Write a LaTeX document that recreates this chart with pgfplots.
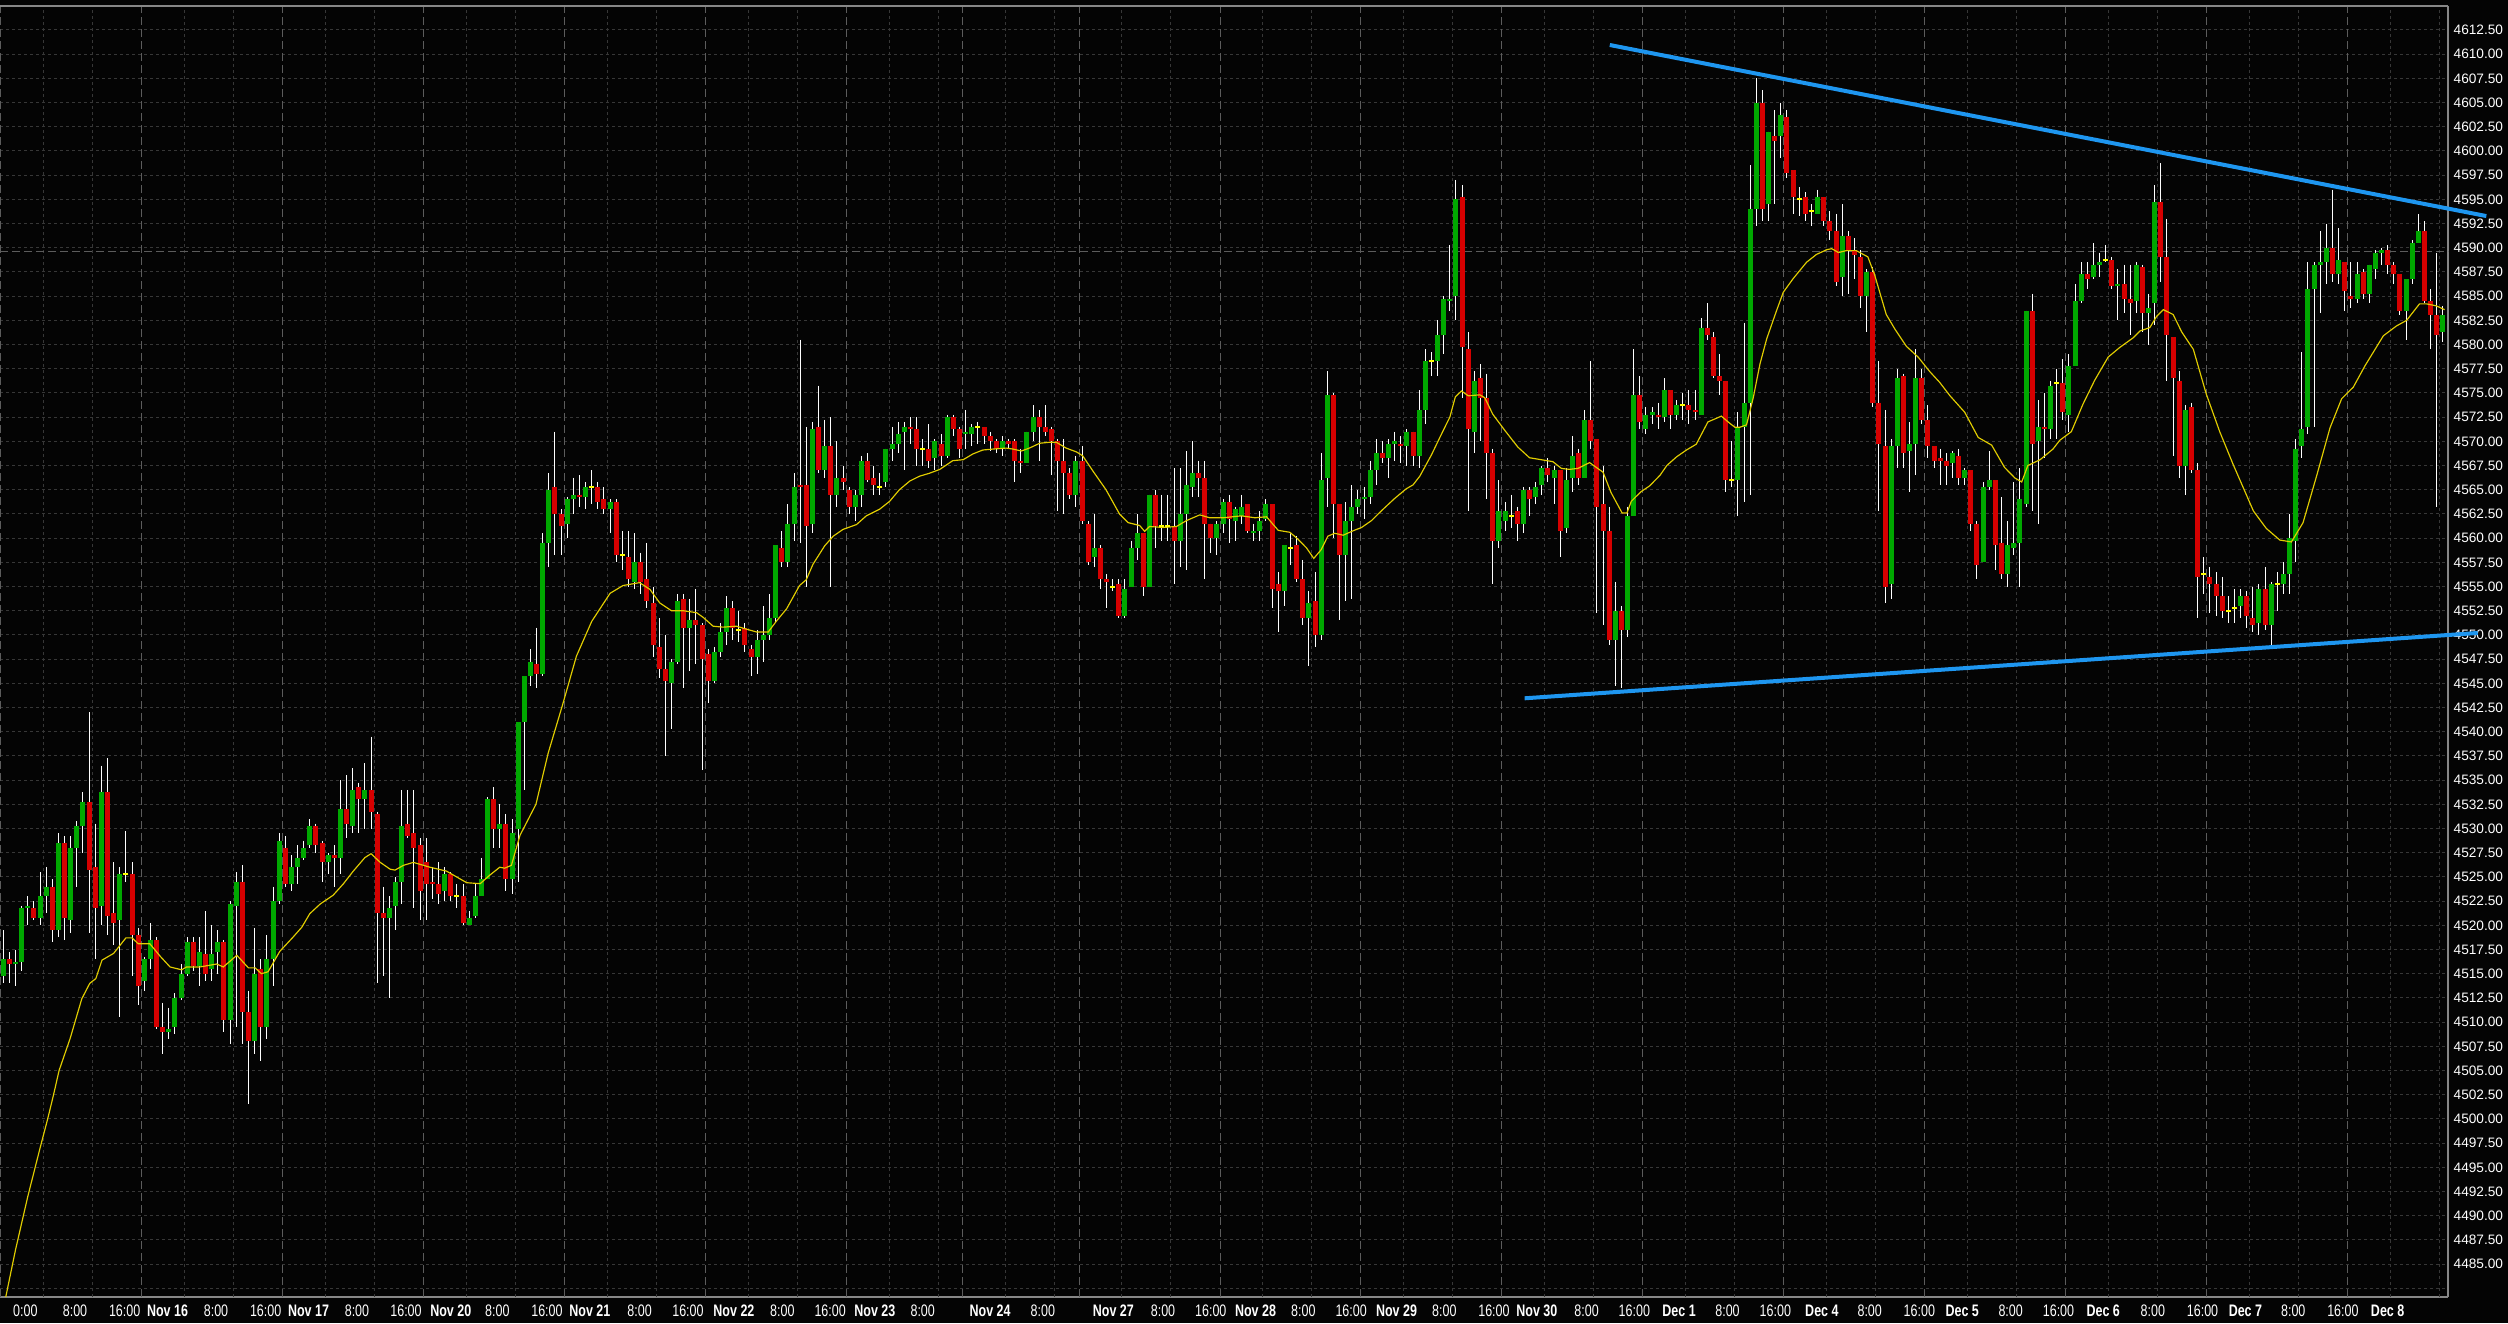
\documentclass[border=0pt]{standalone}
\usepackage{pgfplots}
\pgfplotsset{compat=1.18}
\usepackage{pgfplotstable}
\usepackage{fontspec}
\setmainfont{Liberation Sans}
\newfontfamily\cf[FakeStretch=0.75]{Liberation Sans}
\definecolor{bg}{RGB}{4,4,4}
\definecolor{cgreen}{RGB}{0,168,0}
\definecolor{cred}{RGB}{214,0,0}
\definecolor{cyel}{RGB}{255,255,0}
\definecolor{cma}{RGB}{225,205,0}
\definecolor{cblue}{RGB}{30,150,240}
\definecolor{gridc}{RGB}{55,55,55}
\definecolor{dayc}{RGB}{92,92,92}
\definecolor{framec}{RGB}{135,135,135}
\pgfplotsset{
  nomark/.style={only marks, mark=*, mark size=0pt, mark options={draw=none, fill=none}},
}
% columns: index, open, high, low, close, type (1 up, -1 down, 0 doji)
\pgfplotstableread{
i o h l c t
0 4514.75 4519.5 4514 4516.5 1
1 4516.5 4517.25 4514 4516 -1
2 4516 4517.5 4513.75 4516.25 1
3 4516.25 4522 4515.25 4521.75 1
4 4521.75 4523 4520 4522 1
5 4521.75 4522.5 4520.5 4520.75 -1
6 4520.75 4525.5 4520 4523 1
7 4523 4526 4521.25 4524 1
8 4524 4524.75 4518.25 4519.5 -1
9 4519.5 4529.5 4518.75 4528.5 1
10 4528.5 4529.25 4518.5 4520.75 -1
11 4520.5 4529.25 4519.25 4528 1
12 4528 4530.75 4524 4530.25 1
13 4530.25 4533.75 4527.5 4532.75 1
14 4532.75 4542 4519.25 4525.75 -1
15 4526 4530.5 4516.5 4521.75 -1
16 4522 4536.5 4520 4533.75 1
17 4533.75 4537.25 4519 4521 -1
18 4521.25 4526.5 4518 4520.25 -1
19 4520.5 4526 4510.5 4525.25 1
20 4525.25 4529.75 4524.5 4525.25 0
21 4525.25 4526.5 4514.75 4519 -1
22 4519 4519.75 4511.75 4513.75 -1
23 4514.25 4516.75 4513.25 4516.5 1
24 4516.5 4520.25 4515.5 4518.5 1
25 4518.5 4518.75 4509.25 4509.5 -1
26 4509.5 4512 4506.75 4509 -1
27 4509 4511.5 4508.25 4509.25 1
28 4509.5 4513 4508.75 4512.5 1
29 4512.5 4516 4512.25 4515 1
30 4515 4518.75 4514.75 4518.25 1
31 4518.25 4518.75 4515.25 4515.75 -1
32 4515.75 4518.75 4513.75 4517.25 1
33 4517 4521.5 4514.25 4515 -1
34 4515.5 4520 4514.25 4517 1
35 4517.25 4519.5 4515 4518.25 1
36 4518.25 4518.5 4509 4510.25 -1
37 4510.25 4522.5 4507.75 4522.25 1
38 4522 4525.5 4509.5 4524.5 1
39 4524.5 4526.25 4507.75 4511 -1
40 4511 4513.25 4501.5 4508 -1
41 4508 4519.75 4506.75 4515 1
42 4515.5 4516.5 4506 4509.5 -1
43 4509.5 4519 4508.25 4516.5 1
44 4516.5 4524 4513.75 4522.5 1
45 4522.5 4529.5 4522.25 4528.75 1
46 4528 4529.25 4524 4524.25 -1
47 4524.25 4527.25 4523.5 4526 1
48 4526 4528.25 4524.25 4527 1
49 4527 4528.75 4526.75 4528 1
50 4528.25 4531 4528 4530.25 1
51 4530.25 4530.5 4527.5 4528.25 -1
52 4528.5 4528.75 4524.5 4526.5 -1
53 4526.5 4527.5 4525.25 4527.25 1
54 4527.25 4528.25 4524 4527 -1
55 4527 4535 4525.25 4532 1
56 4532 4535.5 4529 4530.5 -1
57 4530.25 4536.25 4529.5 4534 1
58 4534.25 4534.75 4529.5 4533 -1
59 4533 4536.75 4530 4534 1
60 4534 4539.5 4530 4531.75 -1
61 4531.5 4531.75 4514 4521.25 -1
62 4521.25 4524 4514.75 4520.75 -1
63 4520.75 4523 4512.5 4521.75 1
64 4522 4525 4519.5 4524.5 1
65 4524.5 4534 4522.25 4530.25 1
66 4530.5 4534 4529 4529.25 -1
67 4529.5 4534 4521.75 4528 -1
68 4528.25 4529 4520.5 4523.5 -1
69 4526.5 4529 4520.5 4524.25 -1
70 4524.5 4526 4522.75 4524.25 -1
71 4524.25 4526.5 4522.25 4523.25 -1
72 4523.5 4526 4522.5 4525.25 1
73 4525.25 4525.5 4522.5 4523 -1
74 4523 4524.25 4521.75 4523 0
75 4523 4524.25 4520 4520.25 -1
76 4520 4521.5 4520 4520.75 1
77 4521 4524.25 4520.75 4523 1
78 4523 4527 4523 4524.75 1
79 4524.75 4533.25 4524.75 4533 1
80 4533 4534.25 4528 4530 -1
81 4530 4532.5 4528 4530.5 1
82 4530.5 4531.5 4523.5 4524.75 -1
83 4524.75 4531 4523.25 4529.5 1
84 4530 4541 4524.5 4541 1
85 4541 4545.75 4534 4545.75 1
86 4545.75 4548.5 4544.75 4547.25 1
87 4547 4550.75 4544.5 4546 -1
88 4546 4560.5 4545.75 4559.5 1
89 4559.5 4566.75 4557 4565 1
90 4565.25 4571 4558.25 4562.5 -1
91 4562.5 4563 4558.25 4561.25 -1
92 4561.5 4564.25 4560 4564 1
93 4564 4566.25 4562.5 4564.5 1
94 4564.5 4566.5 4563.25 4564.25 -1
95 4564.25 4565.75 4563 4565.25 1
96 4565.25 4567 4563.5 4565.25 0
97 4565.25 4565.75 4563 4563.75 -1
98 4564 4565.25 4562.5 4563 -1
99 4563 4564 4560.5 4563.75 1
100 4563.75 4564 4557.5 4558.25 -1
101 4558.25 4560.75 4556.75 4558.25 0
102 4558 4560.75 4555 4555.75 -1
103 4555.5 4560.5 4554.75 4557.5 1
104 4557.5 4558.5 4554.25 4555.5 -1
105 4555.75 4559.5 4552.75 4553.5 -1
106 4553.25 4555 4547.75 4549 -1
107 4548.75 4551.75 4545.5 4546.5 -1
108 4546.5 4550 4537.5 4545.25 -1
109 4545 4547.5 4540.25 4547.25 1
110 4547.25 4554.25 4547 4553.5 1
111 4553.75 4554.25 4544.5 4550.75 -1
112 4550.75 4553.75 4546.25 4551.5 1
113 4551.5 4554.75 4547 4551 -1
114 4551 4551.25 4536 4547.5 -1
115 4548 4548.5 4543 4545.25 -1
116 4545.25 4548.75 4545 4548.25 1
117 4548.25 4551.25 4547.75 4550.25 1
118 4550.25 4554 4549 4552.75 1
119 4552.75 4553.5 4549.5 4550.75 -1
120 4550.5 4552.5 4549.25 4550.5 0
121 4550.75 4551.25 4548.25 4549 -1
122 4548.5 4549 4545.75 4547.75 -1
123 4547.75 4550.5 4546 4549.5 1
124 4549.5 4553 4547.25 4550 1
125 4550 4554.25 4549.5 4551.75 1
126 4551.75 4559.25 4551.25 4559.25 1
127 4559 4560.75 4557 4557.5 -1
128 4557.5 4563.5 4557 4561.5 1
129 4561.5 4566.75 4559.75 4565.25 1
130 4565.5 4580.5 4559.5 4565.25 -1
131 4565.5 4571.5 4555 4561.25 -1
132 4561.5 4572 4560.5 4571.25 1
133 4571.5 4575.75 4566.75 4567 -1
134 4567 4572.25 4566.25 4569.5 1
135 4569.5 4572.5 4555 4564.5 -1
136 4564.5 4570 4563.25 4566.25 1
137 4566.25 4567.5 4565 4565.75 -1
138 4565 4565.25 4562.5 4563.25 -1
139 4563.25 4565 4561.75 4564.5 1
140 4564.5 4568.5 4563.25 4568 1
141 4568 4568.75 4565.75 4566 -1
142 4566.25 4567.5 4564.5 4565.5 -1
143 4565.25 4566.75 4564.5 4565.25 0
144 4565.75 4569.25 4565.25 4569.25 1
145 4569.25 4571.5 4568 4569.75 1
146 4569.75 4572 4568.75 4570.75 1
147 4571 4572 4567 4571.5 1
148 4571.5 4572.5 4569.75 4571.25 -1
149 4571.25 4572.5 4567.5 4569.25 -1
150 4569.25 4570.25 4567.5 4569.25 0
151 4569.25 4571.75 4567.25 4568 -1
152 4568.25 4570.25 4567 4570 1
153 4569.75 4570.75 4567.5 4568.5 -1
154 4568.5 4572.75 4568.25 4572.5 1
155 4572.5 4572.75 4570.5 4571.25 -1
156 4571.25 4571.5 4568.25 4569.25 -1
157 4570.75 4573.25 4569.25 4571 1
158 4570.75 4571.75 4569.5 4571.5 1
159 4571.5 4572 4569.75 4571.5 0
160 4571.5 4571.5 4569.75 4570.5 -1
161 4570.5 4571 4569 4570 -1
162 4570 4570.25 4568.75 4569.25 -1
163 4569.25 4570.5 4568.5 4570 1
164 4570 4570.25 4569.25 4569.75 -1
165 4570 4570.25 4565.75 4568 -1
166 4568 4569.25 4566.75 4567.75 -1
167 4567.75 4571 4567.75 4571 1
168 4571 4573.75 4570 4572.5 1
169 4572.5 4573.25 4568 4571.5 -1
170 4571.5 4573.75 4570.5 4571 -1
171 4571.25 4571.5 4566.5 4570 -1
172 4570 4570.25 4562.75 4568 -1
173 4568 4570.25 4562.5 4566.75 -1
174 4566.75 4567.25 4564 4564.5 -1
175 4564.5 4568.5 4563.25 4568 1
176 4568 4569.5 4561.5 4561.75 -1
177 4561.5 4561.75 4557.25 4557.5 -1
178 4558 4562.5 4557 4559 1
179 4559 4559.25 4554.75 4555.75 -1
180 4555.75 4556.25 4552.75 4555.5 -1
181 4555 4555.75 4554.5 4555 0
182 4555.25 4555.75 4551.75 4552 -1
183 4552 4555.75 4551.75 4554.75 1
184 4555 4559.75 4555 4559 1
185 4559 4562.5 4557.75 4560.5 1
186 4560.5 4560.5 4554 4555 -1
187 4555 4564.5 4555 4564.5 1
188 4564.5 4565 4559 4561.25 -1
189 4561.25 4564.5 4559.75 4561.25 0
190 4561.25 4564.5 4559.75 4561.25 0
191 4561.25 4567.25 4555.25 4559.75 -1
192 4559.75 4567.25 4557 4562.5 1
193 4562.5 4569 4556.75 4565.5 1
194 4565.25 4570 4564.25 4566.75 1
195 4566.75 4568 4564.25 4566.25 -1
196 4566.25 4568 4555.75 4561.5 -1
197 4561.5 4561.5 4558.5 4560 -1
198 4560 4561.75 4558.25 4561.5 1
199 4561.5 4564 4560.5 4563.75 1
200 4563.75 4564.5 4559.5 4562 -1
201 4561.75 4563.25 4559.75 4563 1
202 4562.25 4564.5 4561.5 4563.25 1
203 4563.5 4563.5 4560.5 4560.75 -1
204 4560.5 4561.5 4559.75 4560.75 1
205 4560.75 4562.75 4559.75 4561.75 1
206 4562 4564 4561.75 4563.5 1
207 4563.5 4563.5 4552.75 4554.75 -1
208 4555.25 4556.5 4550.25 4554.5 -1
209 4554.5 4559.25 4553 4559.25 1
210 4559 4560.5 4557.25 4559 0
211 4559.25 4560.25 4555.5 4555.75 -1
212 4555.75 4557.75 4551 4551.75 -1
213 4551.75 4554.5 4546.75 4553.25 1
214 4553.5 4556.5 4548.75 4550 -1
215 4550 4568.75 4549.5 4566 1
216 4566.25 4577.25 4563.25 4574.75 1
217 4574.75 4575 4560 4563.5 -1
218 4563.5 4563.5 4551.5 4558.25 -1
219 4558.25 4563.75 4553.5 4561.75 1
220 4561.75 4565.5 4553.75 4563.25 1
221 4563.25 4565 4562.5 4564 1
222 4564 4565.25 4562 4564.25 1
223 4564.25 4568 4563.5 4567 1
224 4567 4570.25 4565.5 4568.75 1
225 4568.75 4570 4567.75 4568.25 -1
226 4568.25 4570.25 4566.25 4569.75 1
227 4569.75 4571 4568 4570 1
228 4569.75 4570.5 4567.75 4569.5 -1
229 4569.5 4571.25 4567.5 4571 1
230 4571 4571 4567.5 4568.5 -1
231 4568.5 4575.25 4567.25 4573.25 1
232 4573.25 4579.5 4571.75 4578.25 1
233 4578.25 4579.25 4576.75 4578.25 0
234 4578.25 4582.5 4576.75 4581 1
235 4581 4585 4579 4584.75 1
236 4584.5 4590.25 4583.5 4584.75 1
237 4585 4597 4582.5 4595 1
238 4595.25 4596.5 4574.5 4579.75 -1
239 4579.5 4581.25 4562.75 4571.25 -1
240 4571 4577.25 4568.75 4576.25 1
241 4576.5 4578 4570 4574.5 -1
242 4574.5 4577 4564 4568.75 -1
243 4568.75 4569.25 4555.25 4559.75 -1
244 4559.75 4566 4559 4562.75 1
245 4561.75 4563.75 4560.75 4562.75 1
246 4562.25 4564.5 4561 4562.25 0
247 4562.75 4563.25 4559.75 4561.5 -1
248 4561.5 4565.25 4560.5 4565 1
249 4565 4565.25 4562.25 4564 -1
250 4564.25 4565.75 4563.5 4565.25 1
251 4565.5 4567.5 4564.5 4567.25 1
252 4567.25 4568.25 4565.75 4566.5 -1
253 4566.25 4567.5 4563.5 4567 1
254 4567 4567 4558 4560.75 -1
255 4561 4567.25 4560.5 4566 1
256 4566.25 4570.5 4564.75 4568.5 1
257 4568.75 4569.25 4565.5 4566.25 -1
258 4566.25 4573.25 4566.25 4572.25 1
259 4572.25 4578.25 4569.25 4570 -1
260 4570.25 4570.25 4552.25 4563.25 -1
261 4563.5 4567.5 4551 4560.75 -1
262 4560.75 4563.25 4549 4549.5 -1
263 4549.5 4555.5 4544.75 4552.5 1
264 4552.5 4553 4544.5 4550.5 -1
265 4550.5 4563.25 4549.75 4562.25 1
266 4562.25 4579.5 4562.25 4574.75 1
267 4574.75 4576.75 4571.25 4572 -1
268 4571.25 4573.5 4570.75 4572.75 1
269 4572.75 4573.5 4571.75 4573 1
270 4572.75 4574 4571.25 4572.5 -1
271 4572.5 4576.5 4572 4575.25 1
272 4575.25 4575.25 4571.25 4572.75 -1
273 4572.75 4574.25 4572.25 4573.75 1
274 4573.75 4575 4572.25 4573.75 0
275 4573.75 4575.25 4571.75 4573.25 -1
276 4573.25 4575.25 4572.25 4573 -1
277 4572.75 4582.75 4572.75 4581.75 1
278 4581.75 4584.25 4580.5 4581 -1
279 4580.75 4581.25 4576.5 4576.75 -1
280 4576.75 4579 4574.75 4576.25 -1
281 4576.25 4576.25 4564.75 4566 -1
282 4566 4570 4565.25 4566 0
283 4566 4573 4562.25 4571.5 1
284 4571.5 4582.25 4563.75 4574 1
285 4574 4598.5 4564.5 4594 1
286 4594 4607.5 4592.25 4605 1
287 4605 4606.25 4592.75 4594 -1
288 4594.5 4602 4592.75 4602 1
289 4601.5 4604.25 4594.5 4601 -1
290 4601.5 4605 4599.25 4603.75 1
291 4603.5 4604.25 4597.25 4597.75 -1
292 4598 4598 4593.5 4595.25 -1
293 4595 4596.25 4593.25 4595 0
294 4595.25 4595.75 4592.75 4593.5 -1
295 4593.75 4594.5 4592.25 4593.75 0
296 4593.5 4596 4593.5 4595.25 1
297 4595.25 4595.25 4592.25 4592.75 -1
298 4592.75 4593.75 4590.75 4591.75 -1
299 4591.75 4593.5 4586 4586.5 -1
300 4587 4594.5 4585 4591.25 1
301 4591.25 4591.75 4585.25 4589.75 -1
302 4589.75 4591 4586.75 4589.25 -1
303 4589 4589.75 4583.75 4585 -1
304 4585 4587.75 4581.25 4587.5 1
305 4587.5 4588 4573.5 4574 -1
306 4574 4578.25 4562.75 4569.75 -1
307 4569.5 4573.25 4553.25 4555 -1
308 4555.25 4570.25 4553.75 4569.5 1
309 4569.5 4577.5 4567.25 4576.5 1
310 4576.75 4577 4567.25 4568.75 -1
311 4569 4572 4564.75 4569.75 1
312 4569.75 4579.5 4566.5 4576.5 1
313 4576.5 4577.5 4571.75 4572.25 -1
314 4572.25 4573.75 4568.25 4569.5 -1
315 4569.5 4569.5 4567.25 4568 -1
316 4568.25 4569.25 4565.5 4568 -1
317 4568 4568.75 4565.5 4567.5 -1
318 4567.75 4569 4566.25 4568.75 1
319 4568.5 4569.25 4565.5 4566.25 -1
320 4566.25 4567.25 4565.5 4567 1
321 4567 4567 4560.75 4561.5 -1
322 4561.5 4561.75 4555.75 4557.25 -1
323 4557.5 4565.75 4557.5 4565.25 1
324 4565.25 4569 4565 4566 1
325 4566 4566 4556.75 4559.25 -1
326 4559.5 4564.25 4555.75 4556.25 -1
327 4556.25 4561.75 4555 4559.25 1
328 4559 4565.75 4558.25 4559.5 1
329 4559.5 4567.25 4555 4564 1
330 4563.5 4583.5 4563.25 4583.5 1
331 4583.5 4585.25 4562.75 4569.75 -1
332 4570 4574.25 4561.5 4571.5 1
333 4571.5 4575 4568.25 4571.25 -1
334 4571.25 4576.25 4570.25 4575.75 1
335 4576 4577.5 4570.25 4576 0
336 4576 4578.5 4572.25 4573 -1
337 4572.75 4579 4571 4577.75 1
338 4577.75 4586.25 4577.75 4584.5 1
339 4584.5 4588.5 4584.25 4587.25 1
340 4587.25 4588.5 4585.75 4586.75 -1
341 4587 4590.5 4586.75 4588.25 1
342 4588.25 4589.5 4587 4588.5 1
343 4588.75 4590.25 4588.5 4588.75 0
344 4588.75 4589 4585.75 4586 -1
345 4586 4587.75 4582.5 4586.25 1
346 4586.25 4588.25 4583.25 4584.75 -1
347 4584.75 4588.25 4581 4584.25 -1
348 4584.5 4588.5 4583.25 4588.25 1
349 4588 4588.25 4581.25 4583.25 -1
350 4583.25 4585.25 4580 4583.75 1
351 4584.25 4596.5 4582 4594.75 1
352 4594.75 4598.75 4586.5 4589 -1
353 4589 4593 4576.25 4581 -1
354 4580.75 4580.75 4568.5 4576.5 -1
355 4576.25 4577.25 4566.25 4567.5 -1
356 4567.5 4573.75 4564.5 4573.25 1
357 4573.5 4574 4566.75 4567 -1
358 4567 4567.75 4551.75 4556 -1
359 4556.25 4558 4554.25 4556.25 0
360 4556 4557 4552.25 4555.25 -1
361 4555.25 4556.5 4552 4554 -1
362 4554 4556 4551.75 4552.5 -1
363 4552.5 4554 4551.25 4552.5 0
364 4552.75 4554.75 4551.25 4552.75 0
365 4553 4554.75 4551.75 4554 1
366 4554 4554.5 4550.75 4552 -1
367 4551.75 4555 4550.25 4551 -1
368 4551.25 4555.25 4550 4554.75 1
369 4554.75 4557 4550.5 4551 -1
370 4551 4555.5 4548.75 4555.25 1
371 4555.25 4556.5 4552.5 4555.25 0
372 4555.25 4557.5 4554.25 4556.25 1
373 4556.25 4562.5 4554.25 4560 1
374 4559.75 4570.25 4557.5 4569.25 1
375 4569.5 4579.25 4568.25 4571.25 1
376 4571.5 4588.5 4570.75 4585.75 1
377 4585.75 4588.5 4571.5 4588.25 1
378 4588.25 4591.75 4583.25 4588.5 1
379 4588.5 4592.5 4586.25 4590 1
380 4590 4596 4586.5 4587.25 -1
381 4587.25 4592 4586.25 4588.75 1
382 4588.5 4588.5 4583.5 4585.5 -1
383 4585 4588.5 4583.75 4584.75 -1
384 4584.75 4588.5 4584.25 4587.25 1
385 4587.5 4587.75 4584.75 4585.25 -1
386 4585.25 4588.25 4584.25 4588.25 1
387 4587.75 4589.75 4586.75 4589.5 1
388 4589.5 4590 4588.25 4589.75 1
389 4589.75 4590.25 4587.25 4588.25 -1
390 4588.25 4588.5 4586.25 4587.25 -1
391 4587.25 4587.25 4583 4583.5 -1
392 4583.5 4586.75 4580.5 4586.75 1
393 4586.75 4590.75 4586.25 4590.5 1
394 4590.5 4593.5 4590.5 4591.75 1
395 4591.75 4592.75 4584.25 4584.5 -1
396 4584.5 4585.75 4579.5 4583 -1
397 4583 4589.5 4563.25 4581 -1
398 4581.25 4584 4580.25 4583 1
}\candles
\begin{document}
\begin{tikzpicture}
\begin{axis}[
  set layers,
  width=734.4pt, height=387.3pt, scale only axis,
  xmin=-0.54, xmax=398.85,
  ymin=4481.6, ymax=4614.97,
  clip=false,
  axis background/.style={fill=bg},
  axis x line*=bottom, axis y line*=right,
  axis line style={framec, line width=0.5pt},
  scaled y ticks=false,
  ytick={4485,4487.5,...,4612.5},
  extra y ticks={4482.5}, extra y tick labels={},
  ymajorgrids,
  major grid style={gridc, line width=0.3pt, dash pattern=on 0.9pt off 0.9pt},
  major tick length=0pt,
  tick style={draw=none},
  yticklabel style={font=\fontsize{4.1}{4.3}\selectfont, text=white, inner sep=0pt, anchor=west, xshift=1.5pt,
    /pgf/number format/.cd, fixed, fixed zerofill, precision=2, 1000 sep={}, assume math mode=true},
  xtick={3.6,11.7,19.8,26.8,34.7,42.8,49.8,57.7,65.7,73.0,80.6,88.7,95.7,103.8,111.7,119.2,127.1,134.9,142.2,150.0,161.0,169.6,181.1,189.2,197.0,204.3,212.1,219.9,227.3,235.1,243.2,250.2,258.3,266.1,273.4,281.3,289.1,296.7,304.5,312.6,319.6,327.5,335.3,342.6,350.7,358.8,365.8,373.6,381.7,389.0},
  xticklabels={0:00,8:00,16:00,\textbf{Nov 16},8:00,16:00,\textbf{Nov 17},8:00,16:00,\textbf{Nov 20},8:00,16:00,\textbf{Nov 21},8:00,16:00,\textbf{Nov 22},8:00,16:00,\textbf{Nov 23},8:00,\textbf{Nov 24},8:00,\textbf{Nov 27},8:00,16:00,\textbf{Nov 28},8:00,16:00,\textbf{Nov 29},8:00,16:00,\textbf{Nov 30},8:00,16:00,\textbf{Dec 1},8:00,16:00,\textbf{Dec 4},8:00,16:00,\textbf{Dec 5},8:00,16:00,\textbf{Dec 6},8:00,16:00,\textbf{Dec 7},8:00,16:00,\textbf{Dec 8}},
  xticklabel style={font=\cf\fontsize{5}{5.2}\selectfont, text=white, inner sep=0pt, anchor=north, yshift=-2.1pt},
]
\coordinate (pgtl) at ([yshift=1.8pt]rel axis cs:0,1);
\coordinate (pgbr) at ([xshift=752.4pt, yshift=-7.8pt]rel axis cs:0,0);
\begin{pgfonlayer}{axis background}
\fill[bg] (pgtl) rectangle (pgbr);
\end{pgfonlayer}
% vertical grid lines
\pgfplotsinvokeforeach{6.5,14.5,29.5,37.5,52.5,60.5,75.5,83.5,98.5,106.5,121.5,129.5,144.5,152.5,163.5,171.5,182.5,190.5,205.5,213.5,228.5,236.5,251.5,259.5,274.5,282.5,297.5,305.5,320.5,328.5,343.5,351.5,366.5,374.5,389.5,397.5}{
  \draw[gridc, line width=0.3pt, dash pattern=on 0.9pt off 0.9pt] (axis cs:#1,4481.6) -- (axis cs:#1,4614.97);
}
\pgfplotsinvokeforeach{-0.5,22.5,45.5,68.5,91.5,114.5,137.5,156.5,175.5,198.5,221.5,244.5,267.5,290.5,313.5,336.5,359.5,382.5}{
  \draw[dayc, line width=0.3pt, dash pattern=on 2.4pt off 1.2pt] (axis cs:#1,4481.6) -- (axis cs:#1,4614.97);
}
\draw[dayc, line width=0.3pt, dash pattern=on 2.4pt off 1.2pt] (axis cs:-0.54,4589.6) -- (axis cs:398.85,4589.6);
\draw[framec, line width=0.5pt] (rel axis cs:0,1) -- (rel axis cs:1,1);
% wicks
\addplot[nomark, forget plot,
  error bars/.cd, y dir=minus, y explicit, error mark=none,
  error bar style={draw=white, line width=0.3pt}]
  table[x=i, y=h, y error minus expr=\thisrow{h}-\thisrow{l}] {\candles};
% up bodies
\addplot[nomark, forget plot,
  restrict expr to domain={\thisrow{t}}{0.5:1.5},
  error bars/.cd, y dir=minus, y explicit, error mark=none,
  error bar style={draw=cgreen, line width=1.5pt}]
  table[x=i, y=c, y error minus expr=\thisrow{c}-\thisrow{o}] {\candles};
% down bodies
\addplot[nomark, forget plot,
  restrict expr to domain={\thisrow{t}}{-1.5:-0.5},
  error bars/.cd, y dir=minus, y explicit, error mark=none,
  error bar style={draw=cred, line width=1.5pt}]
  table[x=i, y=o, y error minus expr=\thisrow{o}-\thisrow{c}] {\candles};
% doji
\addplot[only marks, mark=-, mark size=0.75pt, mark options={draw=cyel, line width=0.6pt}, forget plot,
  restrict expr to domain={\thisrow{t}}{-0.5:0.5}]
  table[x=i, y=c] {\candles};
% moving average
\addplot[cma, line width=0.35pt] coordinates {
(0.4,4481.6) (2,4486.5) (4,4492) (6,4497) (7.2,4499.9) (8.2,4502.5) (9.1,4505) (10.9,4508.3) (12.8,4512.4) (14.1,4514) (15.1,4514.5) (16.1,4516.4) (18,4517.1) (20,4518.7) (21,4518.7) (22,4518.1) (23.9,4518.1) (25.6,4516.8) (27.2,4515.7) (29.1,4515.4) (29.9,4515.7) (32.1,4515.7) (34.8,4516) (35.9,4515.7) (38.1,4516.9) (40,4515.6) (41.1,4515.6) (42.1,4515) (43.2,4515.2) (45.1,4517.3) (47.3,4518.8) (48.7,4519.8) (50,4521.2) (51.7,4522.2) (53.8,4523.1) (55.5,4524.3) (57.1,4525.6) (59,4527) (60,4527.4) (61.5,4526.5) (63.1,4525.8) (63.9,4525.7) (65.3,4526.2) (66.9,4526.5) (69.6,4526) (72.3,4525.6) (75.6,4524.4) (77.8,4524.3) (79.4,4525.2) (81,4526) (81.8,4525.9) (82.9,4526.2) (84.3,4529.3) (86.9,4532.5) (88.9,4537.8) (91.3,4542.9) (93.5,4547.8) (96,4551.4) (99,4554.3) (101.1,4555.1) (103.8,4555.4) (105.5,4554.7) (107.1,4553.3) (109,4552.5) (110.9,4552.5) (113.1,4552.3) (114.2,4551.8) (115.8,4550.9) (117.4,4550.8) (119.6,4550.9) (121.2,4550.6) (122.9,4550.3) (124.8,4550.3) (126.1,4551.4) (127.8,4552.7) (129.9,4555.1) (131,4555.7) (132.1,4557.3) (134,4559.2) (135.4,4560.2) (137,4560.9) (139.2,4561.4) (140.8,4562.3) (143,4563) (144.6,4563.8) (146.2,4565) (147.9,4565.9) (149.5,4566.4) (151.1,4566.7) (152.8,4567.1) (154.9,4568) (156.6,4568.1) (158.2,4568.7) (159.8,4569.1) (161.5,4569.2) (163.6,4569.3) (164.7,4569.2) (166.1,4569) (167.4,4569.3) (169.1,4569.8) (170.7,4569.9) (171.8,4569.9) (173.4,4569.3) (175.1,4568.9) (176.1,4568.5) (177.8,4566.9) (179.9,4565) (182.1,4562.5) (183.5,4561.6) (185.4,4561.3) (186.2,4560.7) (187,4561.2) (189.2,4561.1) (191.4,4561.2) (193,4561.8) (195.2,4562.4) (196.8,4562.1) (199,4562.1) (202,4562.3) (204.2,4562.1) (206.1,4562.2) (208,4560.8) (209.9,4560.6) (211.2,4559.9) (212.6,4559) (213.8,4557.9) (215,4558.8) (216.1,4560.2) (217.2,4560.5) (218.6,4560.3) (220.2,4560.75) (221.6,4561.1) (223.2,4561.8) (224.8,4562.8) (227,4564.1) (228.9,4565.1) (230,4565.5) (231.1,4566.4) (233,4568.6) (234.6,4570.7) (236,4572.5) (236.9,4574.6) (237.9,4575.2) (239,4574.7) (240.9,4574.8) (241.7,4574.5) (243,4572.8) (245,4571.1) (247.1,4569.4) (249,4568.3) (250.9,4568.1) (252.8,4567.9) (254.2,4567.2) (255.5,4567.1) (256.9,4567.2) (258.8,4567.8) (259.9,4567.3) (261,4566.8) (262.3,4564.7) (264.1,4562.6) (264.9,4562.6) (265.6,4563.8) (267.2,4564.8) (268.6,4565.4) (270.3,4566.5) (271.4,4567.5) (273,4568.4) (274.6,4569.1) (276.2,4569.7) (278.1,4572) (280.3,4572.6) (281.4,4572) (282.5,4571.45) (283.3,4571.45) (284.4,4571.7) (285.5,4574.5) (286.6,4578) (287.7,4580.6) (289.3,4583.5) (290.4,4585.4) (292,4586.8) (294.2,4588.5) (295.8,4589.3) (297.5,4589.8) (298.3,4589.9) (299.4,4589.5) (300.7,4589.7) (302.3,4589.7) (304.2,4589.05) (305.3,4587.2) (307.2,4583.1) (308.6,4581.6) (310.5,4579.8) (312.4,4578.7) (314.3,4577.2) (315.9,4576.1) (317.6,4574.7) (320,4573) (322.2,4570.4) (324.4,4569.6) (326.5,4567.3) (328.2,4566.2) (329.3,4565.8) (330.3,4567.5) (332.3,4568.1) (334.4,4569.2) (335.5,4570.1) (337.4,4571) (339.3,4573.85) (341.2,4576.3) (343.4,4578.7) (345.3,4579.7) (347.5,4580.7) (348.6,4581.4) (350.2,4581.75) (351.3,4582.9) (352.4,4583.6) (354,4583.1) (355.4,4581.3) (357.3,4579.5) (359.4,4574.9) (361.6,4571) (363.8,4567.6) (367.1,4562.8) (369.2,4561) (371.4,4559.8) (373.3,4559.6) (375.2,4561.6) (377.4,4566.4) (379.6,4571.4) (381.5,4574.4) (383.4,4575.6) (385.3,4577.8) (388.3,4580.9) (390.4,4581.9) (392.1,4582.5) (394.2,4584.2) (395.3,4584.2) (396.9,4584) (398.3,4583.6)
};
% trend lines
\addplot[cblue, line width=1.2pt] coordinates {(262.1,4610.94) (405.1,4593.27)};
\addplot[cblue, line width=1.2pt] coordinates {(248.2,4543.45) (403.7,4550.2)};
\end{axis}
\pgfresetboundingbox
\path[use as bounding box] (pgtl) rectangle (pgbr);
\end{tikzpicture}
\end{document}
